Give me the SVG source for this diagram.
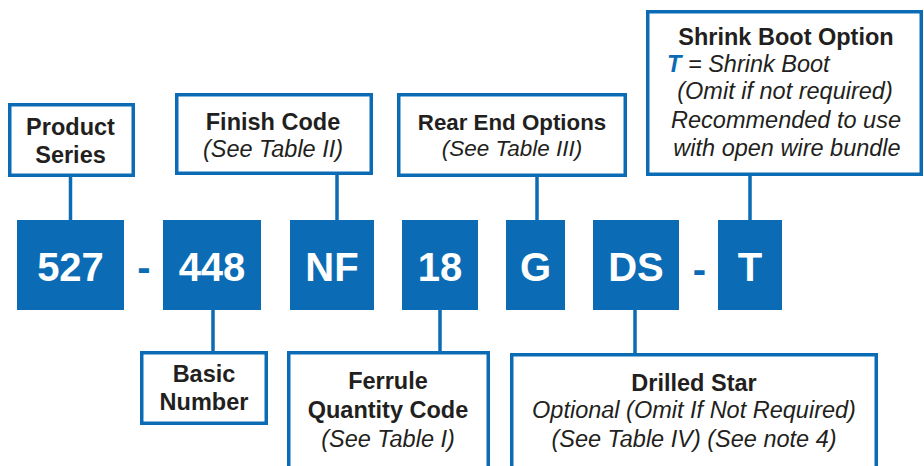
<svg xmlns="http://www.w3.org/2000/svg" width="924" height="466" viewBox="0 0 924 466">
<style>
.frame{fill:#fff;stroke:#0b6cb5;stroke-width:3.5}
.code{fill:#0b6cb5}
.conn line{stroke:#0b6cb5;stroke-width:3.5}
.ct{font-family:"Liberation Sans",Arial,sans-serif;font-weight:bold;font-size:40px;fill:#fff;text-anchor:middle}
.dash{font-family:"Liberation Sans",Arial,sans-serif;font-weight:bold;font-size:40px;fill:#0b6cb5;text-anchor:middle}
.b{font-family:"Liberation Sans",Arial,sans-serif;font-weight:bold;font-size:23.5px;fill:#231f20;text-anchor:middle}
.i{font-family:"Liberation Sans",Arial,sans-serif;font-style:italic;font-size:23.5px;fill:#231f20;text-anchor:middle}
</style>
<rect width="924" height="466" fill="#fff"/>
<g id="connectors" class="conn">
<line x1="70.5" y1="176" x2="70.5" y2="221"/>
<line x1="337" y1="174" x2="337" y2="221"/>
<line x1="537" y1="176" x2="537" y2="221"/>
<line x1="750" y1="175" x2="750" y2="221"/>
<line x1="213" y1="309" x2="213" y2="352"/>
<line x1="440" y1="309" x2="440" y2="352"/>
<line x1="635" y1="309" x2="635" y2="354"/>
</g>
<g id="product-series">
<rect class="frame" x="9.75" y="104.75" width="123.5" height="70.5"/>
<text class="b" x="70.5" y="135">Product</text>
<text class="b" x="70.5" y="163">Series</text>
</g>
<g id="finish-code">
<rect class="frame" x="176.75" y="94.75" width="194.5" height="78.5"/>
<text class="b" x="273" y="130">Finish Code</text>
<text class="i" x="273" y="157">(See Table II)</text>
</g>
<g id="rear-end">
<rect class="frame" x="398.75" y="94.75" width="226.5" height="80.5"/>
<text class="b" x="512" y="130" style="font-size:22.3px">Rear End Options</text>
<text class="i" x="512" y="156" style="font-size:22.5px">(See Table III)</text>
</g>
<g id="shrink-boot">
<rect class="frame" x="647.75" y="11.75" width="273.5" height="162.5"/>
<text class="b" x="786" y="45">Shrink Boot Option</text>
<text class="i" x="667" y="72" style="text-anchor:start"><tspan style="font-weight:bold;fill:#0b6cb5">T</tspan> = Shrink Boot</text>
<text class="i" x="785" y="99">(Omit if not required)</text>
<text class="i" x="786" y="128">Recommended to use</text>
<text class="i" x="787" y="156">with open wire bundle</text>
</g>
<g id="c527"><rect class="code" x="17" y="220" width="107" height="90"/><text class="ct" x="70.5" y="281">527</text></g>
<g id="dash1"><text class="dash" x="144" y="281">-</text></g>
<g id="c448"><rect class="code" x="163" y="220" width="98" height="90"/><text class="ct" x="212" y="281">448</text></g>
<g id="cNF"><rect class="code" x="290" y="220" width="84" height="90"/><text class="ct" x="332" y="281">NF</text></g>
<g id="c18"><rect class="code" x="402" y="220" width="76" height="90"/><text class="ct" x="440" y="281">18</text></g>
<g id="cG"><rect class="code" x="506" y="220" width="59" height="90"/><text class="ct" x="535.5" y="281">G</text></g>
<g id="cDS"><rect class="code" x="593" y="220" width="86" height="90"/><text class="ct" x="636" y="281">DS</text></g>
<g id="dash2"><text class="dash" x="699.5" y="283">-</text></g>
<g id="cT"><rect class="code" x="718" y="220" width="64" height="90"/><text class="ct" x="750" y="281">T</text></g>
<g id="basic-number">
<rect class="frame" x="141.75" y="352.75" width="124.5" height="70.5"/>
<text class="b" x="204" y="382">Basic</text>
<text class="b" x="204" y="410">Number</text>
</g>
<g id="ferrule">
<rect class="frame" x="288.75" y="352.75" width="199.5" height="130"/>
<text class="b" x="388" y="389">Ferrule</text>
<text class="b" x="388" y="418">Quantity Code</text>
<text class="i" x="388" y="447">(See Table I)</text>
</g>
<g id="drilled-star">
<rect class="frame" x="511.75" y="354.75" width="364.5" height="130"/>
<text class="b" x="694" y="391">Drilled Star</text>
<text class="i" x="694" y="418">Optional (Omit If Not Required)</text>
<text class="i" x="694" y="447">(See Table IV) (See note 4)</text>
</g>
</svg>
